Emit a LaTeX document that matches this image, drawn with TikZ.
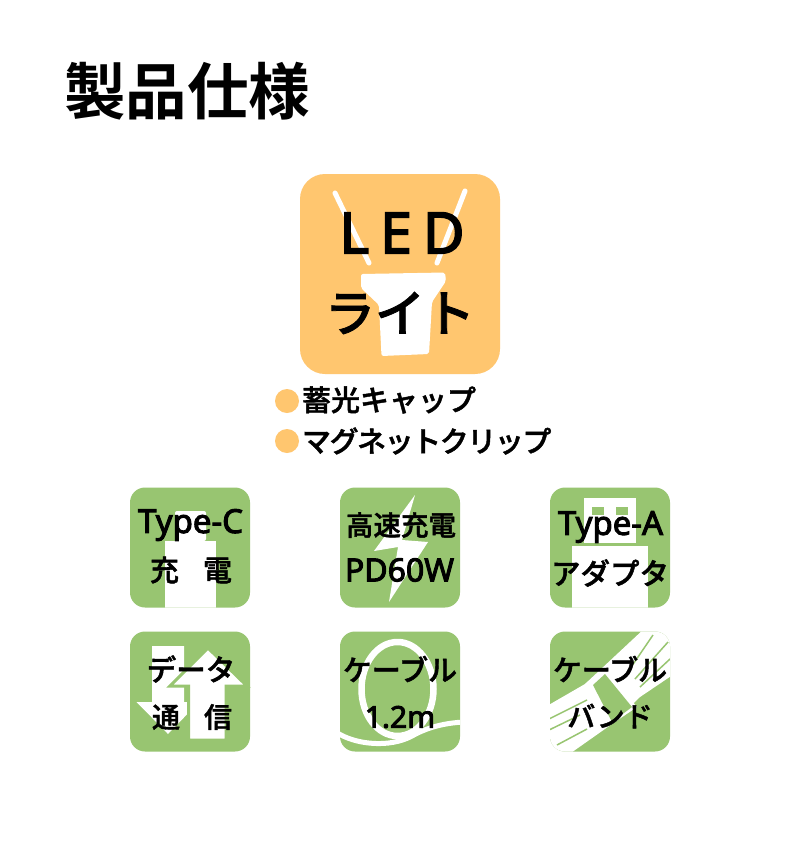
\documentclass[tikz,border=0pt]{standalone}
\usepackage{fontspec}
\newfontfamily\jpb{Noto Sans CJK JP}[BoldFont={Noto Sans CJK JP Bold}]
\newfontfamily\jpm{Noto Sans CJK JP Medium}[FakeBold=1.5]
\newfontfamily\lat{Noto Sans}[FakeBold=3]
\definecolor{icoOrange}{HTML}{FFC66F}
\definecolor{icoGreen}{HTML}{98C571}
\definecolor{inkBlack}{HTML}{000000}
\tikzset{
  wh/.style={fill=white,draw=none},
  txt/.style={inner sep=0pt,outer sep=0pt,text=inkBlack,anchor=center},
}
\newcommand{\fsz}[1]{\fontsize{#1}{#1}\selectfont}
\newcommand{\greenbox}[2]{\fill[icoGreen,rounded corners=15pt] (#1,#2) rectangle ++(120,120);}
\newcommand{\greenclip}[2]{\clip[rounded corners=15pt] (#1,#2) rectangle ++(120,120);}
\begin{document}
\begin{tikzpicture}[x=1pt,y=-1pt]
\useasboundingbox (0,0) rectangle (800,860);
\fill[white] (0,0) rectangle (800,860);
% title
\node[txt,anchor=west] (title) at (64,91) {\jpb\bfseries\fsz{61.5}製品仕様};
% LED icon
\fill[icoOrange,rounded corners=25pt] (300,174) rectangle (500,374);
\draw[white,line width=5pt,line cap=round] (335,193) -- (369,263);
\draw[white,line width=5pt,line cap=round] (465,191) -- (437,263);
\fill[wh,rounded corners=2pt] (361,274) -- (445,272.5) -- (446,281) -- (432,302) -- (429,354) -- (381.5,356) -- (379,305) -- (361,288) -- cycle;
\node[txt] (led) at (402,233) {\lat\fsz{57}L\hspace{11pt}E\hspace{11pt}D};
\node[txt] (light) at (400,313) {\jpm\fsz{50}ライト};
% bullets
\fill[icoOrange] (287,401) circle (12);
\fill[icoOrange] (287,441) circle (12);
\node[txt,anchor=west] (b1) at (302,400) {\jpm\fsz{29}蓄光キャップ};
\node[txt,anchor=west] (b2) at (302,441) {\jpm\addfontfeature{LetterSpace=-5}\fsz{29}マグネットクリップ};
% Type-C
\greenbox{130}{487.5}
\begin{scope}\greenclip{130}{487.5}
\fill[wh,rounded corners=2pt] (175,541) -- (175,511) -- (206,511) -- (206,541) -- cycle;
\fill[wh] (165,541) rectangle (216,608);
\end{scope}
\node[txt] (tc1) at (190.5,525) {\lat\fsz{33}Type-C};
\node[txt] (tc2) at (191,570) {\jpm\fsz{29}充\hspace{24pt}電};
% fast charge
\greenbox{340}{487.5}
\fill[wh] (415,495) -- (374,551) -- (398,547) -- (389,602) -- (428,542) -- (402,540) -- cycle;
\node[txt] (fc1) at (401,525) {\jpm\fsz{27.5}高速充電};
\node[txt] (fc2) at (399.5,570) {\lat\fsz{32}PD60W};
% Type-A
\greenbox{550}{487.5}
\begin{scope}\greenclip{550}{487.5}
\fill[wh] (584,497.5) rectangle (636,543);
\fill[icoGreen] (592,507) rectangle (604,515);
\fill[icoGreen] (616,507) rectangle (628,515);
\fill[wh] (572,546) rectangle (648,608);
\end{scope}
\node[txt] (ta1) at (610.5,527) {\lat\fsz{33}Type-A};
\node[txt] (ta2) at (610,573) {\jpm\fsz{29.5}アダプタ};
% data
\greenbox{130}{631.5}
\fill[wh] (152,646) -- (184,646) -- (184,702) -- (199,702) -- (168,734) -- (136.5,702) -- (152,702) -- cycle;
\fill[wh,draw=icoGreen,line width=3pt,line join=miter] (208,648) -- (247,686) -- (226,686) -- (226,740) -- (188.5,740) -- (188.5,686) -- (170,686) -- cycle;
\node[txt] (d1) at (191,669) {\jpm\fsz{29.5}データ};
\node[txt] (d2) at (192,717) {\jpm\fsz{28}通\hspace{24pt}信};
% cable length
\greenbox{340}{631.5}
\begin{scope}\greenclip{340}{631.5}
\draw[white,line width=6.5pt] (397.5,689) ellipse (36 and 47);
\draw[white,line width=5pt] (336,732) .. controls (355,745) and (390,748) .. (412,736) .. controls (428,727) and (445,723) .. (464,722);
\end{scope}
\node[txt] (c1) at (400,669) {\jpm\fsz{29}ケーブル};
\node[txt] (c2) at (400,717) {\lat\fsz{30}1.2m};
% cable band
\greenbox{550}{631.5}
\begin{scope}\greenclip{550}{631.5}
\fill[wh] (540,710) -- (585,684) -- (600,670) -- (645,628) -- (680,628) -- (680,670) -- (640,697) -- (612,724) -- (568,755) -- (540,755) -- cycle;
\foreach \xa/\ya/\xb/\yb in {
 549/719/587/700,
 549/730/580/715,
 557/745/587/729,
 623/679/653/635,
 635/679/668/642,
 640/687/670/659}{
 \draw[icoGreen,line width=1.5pt] (\xa,\ya) -- (\xb,\yb);
}
\fill[wh] (585,684) -- (605,669) -- (637,707) -- (612,724) -- cycle;
\fill[icoGreen] (593,685) -- (605,674) -- (632,707) -- (612,722) -- cycle;
\end{scope}
\node[txt] (b3) at (610,669) {\jpm\fsz{29}ケーブル};
\node[txt] (b4) at (610,716) {\jpm\fsz{28}バンド};
\end{tikzpicture}
\end{document}
